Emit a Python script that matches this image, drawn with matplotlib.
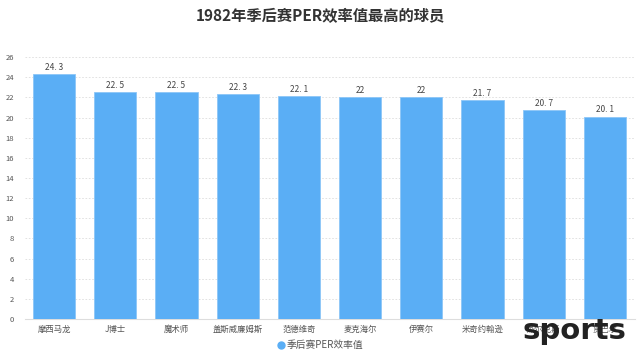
import matplotlib.pyplot as plt
import numpy as np

plt.rcParams['font.family'] = ['Noto Sans CJK SC', 'DejaVu Sans']

# data
players = ['摩西马龙', 'J博士', '魔术师', '盖斯威廉姆斯', '范德维奇',
           '麦克海尔', '伊赛尔', '米奇约翰逊', '威尔克斯', '贾巴尔']
per = [24.3, 22.5, 22.5, 22.3, 22.1, 22, 22, 21.7, 20.7, 20.1]
value_labels = ['24. 3', '22. 5', '22. 5', '22. 3', '22. 1', '22', '22', '21. 7', '20. 7', '20. 1']
yticks = np.arange(0, 27, 2)

bar_color = '#5aaef5'

fig = plt.figure(figsize=(6.4, 3.61), dpi=100)
ax = fig.add_axes([0.039, 0.116, 0.953, 0.726])

x = np.arange(len(players))
ax.bar(x, per, width=0.69, color=bar_color, edgecolor='#8cc6f7', linewidth=0.6,
       label='季后赛PER效率值', zorder=3)

for xi, v, lab in zip(x, per, value_labels):
    ax.text(xi, v + 0.2, lab, ha='center', va='bottom', fontsize=6, color='#444444', zorder=4)

ax.set_xlim(-0.475, len(players) - 0.51)
ax.set_ylim(0, 26)
ax.set_yticks(yticks)
ax.set_yticklabels([str(t) for t in yticks], fontsize=5.5, color='#555555')
ax.set_xticks(x)
ax.set_xticklabels(players, fontsize=6, color='#555555')
ax.tick_params(axis='y', length=0, pad=8)
ax.tick_params(axis='x', length=0, pad=4)

ax.grid(axis='y', linestyle=(0, (2, 2)), color='#dddddd', linewidth=0.6, zorder=0)
for s in ['top', 'right', 'left']:
    ax.spines[s].set_visible(False)
ax.spines['bottom'].set_color('#dddddd')
ax.spines['bottom'].set_linewidth(0.8)

fig.text(0.5, 0.955, '1982年季后赛PER效率值最高的球员', ha='center', va='center',
         fontsize=11, fontweight='bold', color='#333333')

leg = fig.legend(handles=[plt.Line2D([], [], marker='o', linestyle='', color=bar_color, markersize=5)],
                 labels=['季后赛PER效率值'], loc='center', bbox_to_anchor=(0.5, 0.044),
                 frameon=False, fontsize=7, handletextpad=0.1, handlelength=1)
for t in leg.get_texts():
    t.set_color('#555555')

# watermark
fig.text(0.897, 0.083, 'sports', ha='center', va='center', fontsize=21,
         fontweight='bold', color='#222222', family='DejaVu Sans')

fig.savefig('out.png', dpi=100)
